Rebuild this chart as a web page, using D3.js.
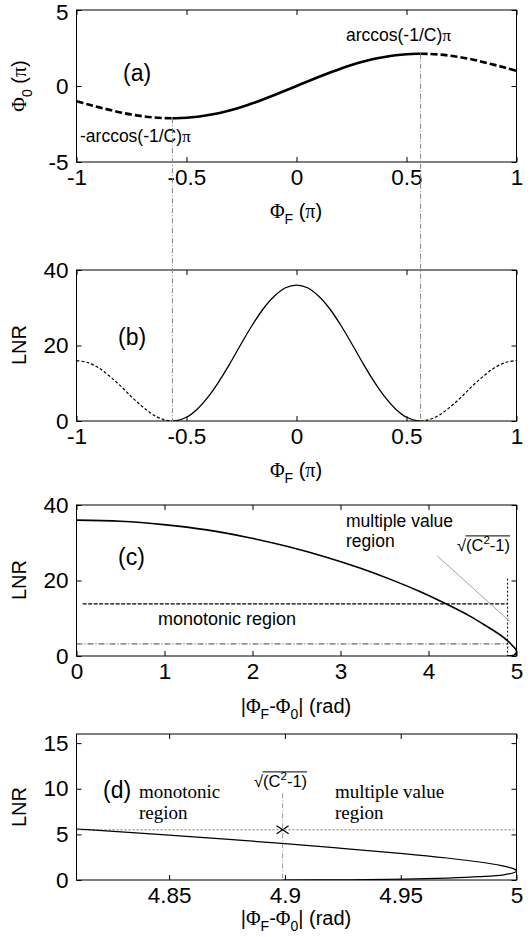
<!DOCTYPE html>
<html>
<head>
<meta charset="utf-8">
<script src="https://cdn.jsdelivr.net/npm/d3@7"></script>
<style>
  html, body { margin: 0; padding: 0; background: #fff; }
  svg { display: block; }
  text { font-family: "Liberation Sans", Arial, sans-serif; fill: #000; }
  .sym { font-family: "Liberation Serif", "Times New Roman", serif; }
  .serif { font-family: "Liberation Serif", "Times New Roman", serif; }
</style>
</head>
<body>
<svg id="fig" width="531" height="937"></svg>
<script>
// ---- data ----
// (a) phase Φ0 against ΦF, both in units of π; (b) LNR against ΦF
const phiF = [-1,-0.95,-0.9,-0.85,-0.8,-0.75,-0.7,-0.65,-0.6,-0.564,-0.55,-0.5,-0.45,-0.4,-0.35,-0.3,-0.25,-0.2,-0.15,-0.1,-0.05,
              0,0.05,0.1,0.15,0.2,0.25,0.3,0.35,0.4,0.45,0.5,0.55,0.564,0.6,0.65,0.7,0.75,0.8,0.85,0.9,0.95,1];
const phi0 = [-1.00,-1.20,-1.39,-1.57,-1.74,-1.88,-1.99,-2.07,-2.11,-2.12,-2.12,-2.09,-2.02,-1.91,-1.77,-1.59,-1.38,-1.14,-0.87,-0.59,-0.30,
              0,0.30,0.59,0.87,1.14,1.38,1.59,1.77,1.91,2.02,2.09,2.12,2.12,2.11,2.07,1.99,1.88,1.74,1.57,1.39,1.20,1.00];
const lnrB = [16.0,15.5,14.1,11.9,9.3,6.4,3.8,1.6,0.3,0,0.05,1.0,3.2,6.5,10.7,15.5,20.6,25.5,29.8,33.1,35.3,
              36.0,35.3,33.1,29.8,25.5,20.6,15.5,10.7,6.5,3.2,1.0,0.05,0,0.3,1.6,3.8,6.4,9.3,11.9,14.1,15.5,16.0];
const turnPhi = 0.564;          // ±arccos(-1/C)/π

// (c) LNR against |ΦF-Φ0| (rad)
const devC = [0,0.50,0.99,1.48,1.95,2.40,2.82,3.22,3.59,3.92,4.21,4.46,4.66,4.82,4.90,4.96,4.99,5.00,4.98,4.96,4.90];
const lnrC = [36.0,35.7,34.8,33.4,31.4,29.0,26.3,23.3,20.1,16.9,13.7,10.7,7.9,5.5,4.0,2.6,1.8,1.0,0.37,0.13,0];
const sqrtC = 4.899;            // √(C²-1)
const levelHi = 13.8;           // dashed level in (c)
const levelLo = 3.2;            // dash-dot level in (c)
const guideC = [[4.10, 26.5], [4.93, 9.0]];

// (d) close-up of the turning region
const devD = [4.81,4.818,4.856,4.900,4.927,4.951,4.970,4.984,4.9935,4.9989,5.0,4.9991,4.9944,4.9843,4.9702,4.9516,4.9286,4.899];
const lnrD = [5.59,5.46,4.81,3.99,3.42,2.90,2.41,1.97,1.57,1.22,1.00,0.82,0.57,0.37,0.21,0.09,0.03,0];
const levelD = 5.5;

// tick values
const ticksPhiF = [-1,-0.5,0,0.5,1];
const ticksPhi0 = [-5,0,5];
const ticksLnr40 = [0,20,40];
const ticksDev = [0,1,2,3,4,5];
const ticksDevD = [4.85,4.9,4.95,5];
const ticksLnr15 = [0,5,10,15];

// ---- layout ----
const svg = d3.select("#fig");
const L = 76.5, R = 516.5;
const TICK_FS = 22.5, LABEL_FS = 20, TAG_FS = 23, NOTE_FS = 17.5;

function makePanel(id, top, bottom, xDom, yDom, xTicks, yTicks) {
  const x = d3.scaleLinear().domain(xDom).range([L, R]);
  const y = d3.scaleLinear().domain(yDom).range([bottom, top]);
  const g = svg.append("g").attr("id", id);
  g.append("clipPath").attr("id", id + "-clip")
    .append("rect").attr("x", L).attr("y", top).attr("width", R - L).attr("height", bottom - top);

  const styleAxis = sel => {
    sel.select(".domain").remove();
    sel.selectAll(".tick line").attr("stroke", "#000").attr("stroke-width", 1);
    sel.selectAll(".tick text").style("font-size", TICK_FS + "px")
      .style("font-family", "'Liberation Sans', Arial, sans-serif").attr("fill", "#000");
  };
  g.append("g").attr("transform", `translate(0,${bottom})`)
    .call(d3.axisBottom(x).tickValues(xTicks).tickFormat(String).tickSize(-5).tickPadding(7))
    .call(styleAxis);
  g.append("g").attr("transform", `translate(0,${top})`)
    .call(d3.axisTop(x).tickValues(xTicks).tickFormat("").tickSize(-5))
    .call(styleAxis);
  const yAx = g.append("g").attr("transform", `translate(${L},0)`)
    .call(d3.axisLeft(y).tickValues(yTicks).tickFormat(String).tickSize(-5).tickPadding(8))
    .call(styleAxis);
  g.append("g").attr("transform", `translate(${R},0)`)
    .call(d3.axisRight(y).tickValues(yTicks).tickFormat("").tickSize(-5))
    .call(styleAxis);
  g.append("rect").attr("x", L).attr("y", top).attr("width", R - L).attr("height", bottom - top)
    .attr("fill", "none").attr("stroke", "#000").attr("stroke-width", 1);
  const plot = g.append("g").attr("clip-path", `url(#${id}-clip)`);
  return { x, y, g, plot, top, bottom, yAx };
}

// rich text helper: parts are [text, kind] with kind "", "sym", "sub", "sup"
function richText(parent, parts, size) {
  const t = parent.append("text").style("font-size", size + "px");
  let shift = 0;
  parts.forEach(([s, kind]) => {
    const sp = t.append("tspan").text(s);
    let target = 0;
    if (kind === "sym") sp.attr("class", "sym");
    if (kind === "sub") { target = size * 0.28; sp.style("font-size", (size * 0.7) + "px"); }
    if (kind === "sup") { target = -size * 0.4; sp.style("font-size", (size * 0.7) + "px"); }
    if (target !== shift) { sp.attr("dy", target - shift); shift = target; }
  });
  return t;
}

const phiLabel = [["Φ","sym"],["F","sub"],[" (",""],["π","sym"],[")",""]];
const devLabel = [["|",""],["Φ","sym"],["F","sub"],["-",""],["Φ","sym"],["0","sub"],["| (rad)",""]];

function xLabel(parts, cx, baseline) {
  richText(svg, parts, LABEL_FS).attr("x", cx).attr("y", baseline).attr("text-anchor", "middle");
}
function yLabel(parts, cx, cy) {
  richText(svg, parts, LABEL_FS).attr("text-anchor", "middle")
    .attr("transform", `translate(${cx},${cy}) rotate(-90)`);
}

// ---------- panel (a) ----------
const A = makePanel("pa", 10, 162, [-1, 1], [-5, 5], ticksPhiF, ticksPhi0);
// keep the top tick label inside the page
A.yAx.selectAll(".tick").filter(d => d === 5).select("text").attr("dy", "0.42em");
const ptsA = phiF.map((f, i) => [f, phi0[i]]);
const lineA = d3.line().x(d => A.x(d[0])).y(d => A.y(d[1])).curve(d3.curveCatmullRom);
A.plot.append("path").datum(ptsA.filter(d => Math.abs(d[0]) <= turnPhi + 1e-9))
  .attr("d", lineA).attr("fill", "none").attr("stroke", "#000").attr("stroke-width", 2.6);
A.plot.append("path").datum(ptsA.filter(d => d[0] <= -turnPhi + 1e-9))
  .attr("d", lineA).attr("fill", "none").attr("stroke", "#000").attr("stroke-width", 2.6)
  .attr("stroke-dasharray", "7,3");
A.plot.append("path").datum(ptsA.filter(d => d[0] >= turnPhi - 1e-9))
  .attr("d", lineA).attr("fill", "none").attr("stroke", "#000").attr("stroke-width", 2.6)
  .attr("stroke-dasharray", "7,3");
richText(A.g, [["(a)",""]], TAG_FS).attr("x", 123).attr("y", 81);
richText(A.g, [["arccos(-1/C)",""],["π","sym"]], NOTE_FS).attr("x", 346).attr("y", 41);
richText(A.g, [["-arccos(-1/C)",""],["π","sym"]], NOTE_FS).attr("x", 80).attr("y", 142);
yLabel([["Φ","sym"],["0","sub"],[" (",""],["π","sym"],[")",""]], 26, 86);
xLabel(phiLabel, 296, 218);

// ---------- panel (b) ----------
const B = makePanel("pb", 270, 421, [-1, 1], [0, 40], ticksPhiF, ticksLnr40);
const ptsB = phiF.map((f, i) => [f, lnrB[i]]);
const lineB = d3.line().x(d => B.x(d[0])).y(d => B.y(d[1])).curve(d3.curveCatmullRom);
B.plot.append("path").datum(ptsB.filter(d => Math.abs(d[0]) <= turnPhi + 1e-9))
  .attr("d", lineB).attr("fill", "none").attr("stroke", "#000").attr("stroke-width", 1.3);
B.plot.append("path").datum(ptsB.filter(d => d[0] <= -turnPhi + 1e-9))
  .attr("d", lineB).attr("fill", "none").attr("stroke", "#000").attr("stroke-width", 1.2)
  .attr("stroke-dasharray", "3,2");
B.plot.append("path").datum(ptsB.filter(d => d[0] >= turnPhi - 1e-9))
  .attr("d", lineB).attr("fill", "none").attr("stroke", "#000").attr("stroke-width", 1.2)
  .attr("stroke-dasharray", "3,2");
richText(B.g, [["(b)",""]], TAG_FS).attr("x", 118).attr("y", 345);
yLabel([["LNR",""]], 26, 345);
xLabel(phiLabel, 296, 477);

// vertical guides at ±arccos(-1/C)π running from the extremes of (a) to the zeros of (b)
[-turnPhi, turnPhi].forEach(v => {
  const iExt = phiF.indexOf(v);
  svg.append("line")
    .attr("x1", A.x(v)).attr("x2", A.x(v))
    .attr("y1", A.y(phi0[iExt])).attr("y2", B.y(lnrB[iExt]))
    .attr("stroke", "#808080").attr("stroke-width", 1).attr("stroke-dasharray", "5,2,1,2");
});

// ---------- panel (c) ----------
const C = makePanel("pc", 505, 656, [0, 5], [0, 40], ticksDev, ticksLnr40);
const ptsC = devC.map((d, i) => [d, lnrC[i]]);
const lineC = d3.line().x(d => C.x(d[0])).y(d => C.y(d[1])).curve(d3.curveCatmullRom);
C.plot.append("line").attr("x1", C.x(0.07)).attr("x2", C.x(sqrtC))
  .attr("y1", C.y(levelHi)).attr("y2", C.y(levelHi))
  .attr("stroke", "#000").attr("stroke-width", 1.3).attr("stroke-dasharray", "4,1.5");
C.plot.append("line").attr("x1", C.x(0)).attr("x2", C.x(sqrtC))
  .attr("y1", C.y(levelLo)).attr("y2", C.y(levelLo))
  .attr("stroke", "#444").attr("stroke-width", 1).attr("stroke-dasharray", "6,2,1,2");
C.plot.append("line").attr("x1", C.x(sqrtC)).attr("x2", C.x(sqrtC))
  .attr("y1", C.y(20.5)).attr("y2", C.y(0))
  .attr("stroke", "#000").attr("stroke-width", 1).attr("stroke-dasharray", "2,2");
C.plot.append("line").attr("x1", C.x(guideC[0][0])).attr("y1", C.y(guideC[0][1]))
  .attr("x2", C.x(guideC[1][0])).attr("y2", C.y(guideC[1][1]))
  .attr("stroke", "#999").attr("stroke-width", 0.9);
C.plot.append("path").datum(ptsC).attr("d", lineC)
  .attr("fill", "none").attr("stroke", "#000").attr("stroke-width", 1.6);
richText(C.g, [["(c)",""]], TAG_FS).attr("x", 118).attr("y", 565);
richText(C.g, [["multiple value",""]], NOTE_FS).attr("x", 346).attr("y", 527);
richText(C.g, [["region",""]], NOTE_FS).attr("x", 346).attr("y", 547);
richText(C.g, [["monotonic region",""]], 18).attr("x", 158).attr("y", 625);

// √(C²-1) with an overbar across the radicand
function sqrtLabel(parent, x, y, size, anchor) {
  const t = richText(parent, [["√",""],["(C",""],["2","sup"],["-1)",""]], size)
    .attr("x", x).attr("y", y).attr("text-anchor", anchor || "start");
  const root = t.select("tspan").node().getComputedTextLength();
  const bb = t.node().getBBox();
  parent.append("line").attr("x1", bb.x + root - 0.5).attr("x2", bb.x + bb.width)
    .attr("y1", bb.y + 1.5).attr("y2", bb.y + 1.5).attr("stroke", "#000").attr("stroke-width", 1);
  return t;
}
sqrtLabel(C.g, 510, 551, 16.5, "end");
yLabel([["LNR",""]], 26, 580);
xLabel(devLabel, 296, 713);

// ---------- panel (d) ----------
const D = makePanel("pd", 734, 880, [4.81, 5], [0, 16], ticksDevD, ticksLnr15);
const ptsD = devD.map((d, i) => [d, lnrD[i]]);
const lineD = d3.line().x(d => D.x(d[0])).y(d => D.y(d[1])).curve(d3.curveCatmullRom);
D.plot.append("line").attr("x1", D.x(4.81)).attr("x2", D.x(5))
  .attr("y1", D.y(levelD)).attr("y2", D.y(levelD))
  .attr("stroke", "#777").attr("stroke-width", 1).attr("stroke-dasharray", "2,2");
D.plot.append("line").attr("x1", D.x(sqrtC)).attr("x2", D.x(sqrtC))
  .attr("y1", D.y(9.5)).attr("y2", D.y(0))
  .attr("stroke", "#999").attr("stroke-width", 1).attr("stroke-dasharray", "5,2,1,2");
D.plot.append("path").datum(ptsD).attr("d", lineD)
  .attr("fill", "none").attr("stroke", "#000").attr("stroke-width", 1.2);
// inward chevrons marking √(C²-1) on the level line
{
  const cx = D.x(sqrtC), cy = D.y(levelD);
  D.g.append("path").attr("d", `M${cx - 6},${cy - 4}L${cx},${cy}L${cx - 6},${cy + 4}M${cx + 6},${cy - 4}L${cx},${cy}L${cx + 6},${cy + 4}`)
    .attr("fill", "none").attr("stroke", "#000").attr("stroke-width", 1.2);
}
richText(D.g, [["(d)",""]], TAG_FS).attr("x", 103).attr("y", 798);
D.g.append("text").attr("class", "serif").style("font-size", "19px").attr("x", 139).attr("y", 798).text("monotonic");
D.g.append("text").attr("class", "serif").style("font-size", "19px").attr("x", 139).attr("y", 819).text("region");
D.g.append("text").attr("class", "serif").style("font-size", "19px").attr("x", 335).attr("y", 798).text("multiple value");
D.g.append("text").attr("class", "serif").style("font-size", "19px").attr("x", 335).attr("y", 819).text("region");
sqrtLabel(D.g, 254, 787, 16.5);
yLabel([["LNR",""]], 26, 807);
xLabel(devLabel, 296, 925);
</script>
</body>
</html>
